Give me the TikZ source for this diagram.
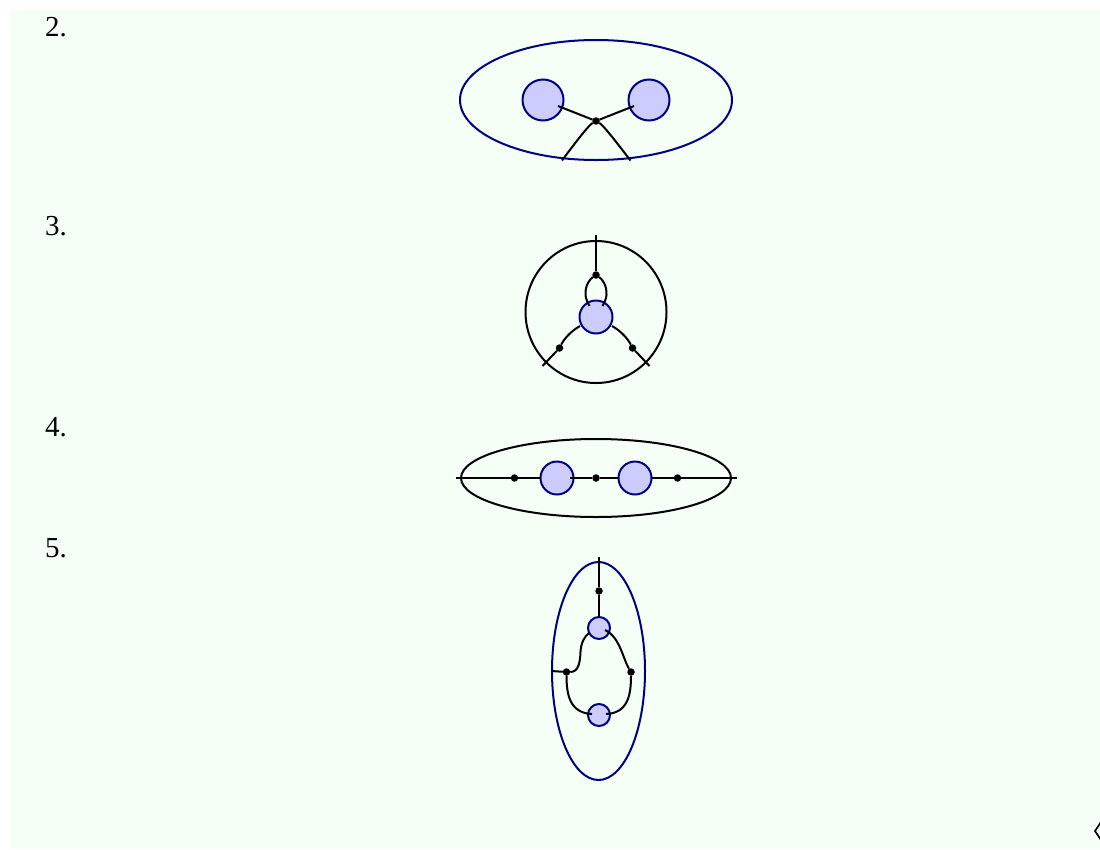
\documentclass[tikz,border=0pt]{standalone}
\usepackage{fontspec}
\setmainfont{Liberation Serif}
\definecolor{pagebg}{HTML}{F5FFF5}
\definecolor{ringblue}{HTML}{000080}
\definecolor{blobfill}{HTML}{CCCCFF}
\tikzset{
  num/.style={anchor=base west,inner sep=0pt,font=\fontsize{29}{32}\selectfont,text=black},
  ringb/.style={draw=ringblue,line width=2pt,ellipse,inner sep=0pt,outer sep=0pt},
  ringk/.style={draw=black,line width=2pt,ellipse,inner sep=0pt,outer sep=0pt},
  blob/.style={circle,draw=ringblue,fill=blobfill,line width=2pt,inner sep=0pt,outer sep=0pt,minimum size=#1},
  vert/.style={circle,fill=black,inner sep=0pt,outer sep=0pt,minimum size=7.5pt},
  wire/.style={draw=black,line width=2pt}
}
\usetikzlibrary{shapes.geometric}
\begin{document}
\begin{tikzpicture}[x=1pt,y=-1pt]
\useasboundingbox (0,0) rectangle (1100,849);
\fill[pagebg] (10,10) rectangle (1100,849);
\node[num] (n2) at (45,36) {2.};
\node[num] (n3) at (45,235.5) {3.};
\node[num] (n4) at (45,436.5) {4.};
\node[num] (n5) at (45,557.5) {5.};
% panel 2
\node[ringb,minimum width=272pt,minimum height=120pt] (e2) at (596,100) {};
\node[blob=41pt] (a1) at (543,100) {};
\node[blob=41pt] (a2) at (649,100) {};
\node[vert] (a0) at (596,121) {};
\coordinate (a1e) at (558,106);
\coordinate (a2e) at (634,106);
\coordinate (a3e) at (562,160.5);
\coordinate (a4e) at (630.5,160.5);
\draw[wire] (a1e) -- (a0);
\draw[wire] (a2e) -- (a0);
\draw[wire] (a0) .. controls (589,125) and (578,139) .. (a3e);
\draw[wire] (a0) .. controls (603,125) and (614,139) .. (a4e);
% panel 3
\node[ringk,minimum width=141pt,minimum height=142pt] (e3) at (596,312) {};
\node[blob=33pt] (b1) at (596,317) {};
\node[vert] (b2) at (596,275) {};
\node[vert] (b3) at (559.5,348) {};
\node[vert] (b4) at (632.5,348) {};
\coordinate (b2t) at (596,235);
\coordinate (b3e) at (542.5,366);
\coordinate (b4e) at (649.5,366);
\coordinate (b1l) at (589.5,306);
\coordinate (b1r) at (602.5,306);
\coordinate (b1a) at (580,326);
\coordinate (b1b) at (612,326);
\draw[wire] (b2t) -- (b2);
\draw[wire] (b2) .. controls (590,279) and (585,285) .. (585.5,295) .. controls (585.7,299) and (588,303) .. (b1l);
\draw[wire] (b2) .. controls (602,279) and (607,285) .. (606.5,295) .. controls (606.3,299) and (604,303) .. (b1r);
\draw[wire] (b3e) -- (b3);
\draw[wire] (b4e) -- (b4);
\draw[wire] (b3) .. controls (564,339) and (571,331) .. (b1a);
\draw[wire] (b4) .. controls (628,339) and (621,331) .. (b1b);
% panel 4
\node[ringk,minimum width=270pt,minimum height=78pt] (e4) at (596,478) {};
\node[blob=33pt] (c1) at (557,478) {};
\node[blob=33pt] (c2) at (635,478) {};
\node[vert] (c3) at (514.5,478) {};
\node[vert] (c4) at (596,478) {};
\node[vert] (c5) at (677.5,478) {};
\coordinate (c6) at (455.5,478);
\coordinate (c7) at (737,478);
\coordinate (c1r) at (570,478);
\draw[wire] (c6) -- (c3) -- (c1.west);
\draw[wire] (c1r) -- (c4) -- (c2.west);
\draw[wire] (c2.east) -- (c5) -- (c7);
% panel 5
\node[ringb,minimum width=93pt,minimum height=218pt] (e5) at (598.5,671) {};
\node[blob=22pt] (d1) at (599,628) {};
\node[blob=22pt] (d2) at (599,715) {};
\node[vert] (d3) at (599,591) {};
\node[vert] (d4) at (566.5,672) {};
\node[vert] (d5) at (631,672) {};
\coordinate (d0) at (599,557);
\coordinate (d6) at (551.5,671);
\coordinate (d1l) at (589,633);
\coordinate (d1r) at (605,630);
\coordinate (d2l) at (592,714);
\coordinate (d2r) at (606,714);
\draw[wire] (d0) -- (d3) -- (d1.north);
\draw[wire] (d6) -- (d4);
\draw[wire] (d1l) .. controls (584,637) and (581,643) .. (580.5,652) .. controls (580,664) and (578,672) .. (d4);
\draw[wire] (d1r) .. controls (620,637) and (623,659) .. (d5);
\draw[wire] (d4) .. controls (566.5,695) and (570,713) .. (d2l);
\draw[wire] (d5) .. controls (631,695) and (628,713) .. (d2r);
% clipped end mark
\draw[line width=1.7pt,black] (1101,822) -- (1095,831) -- (1101,840);
\end{tikzpicture}
\end{document}
